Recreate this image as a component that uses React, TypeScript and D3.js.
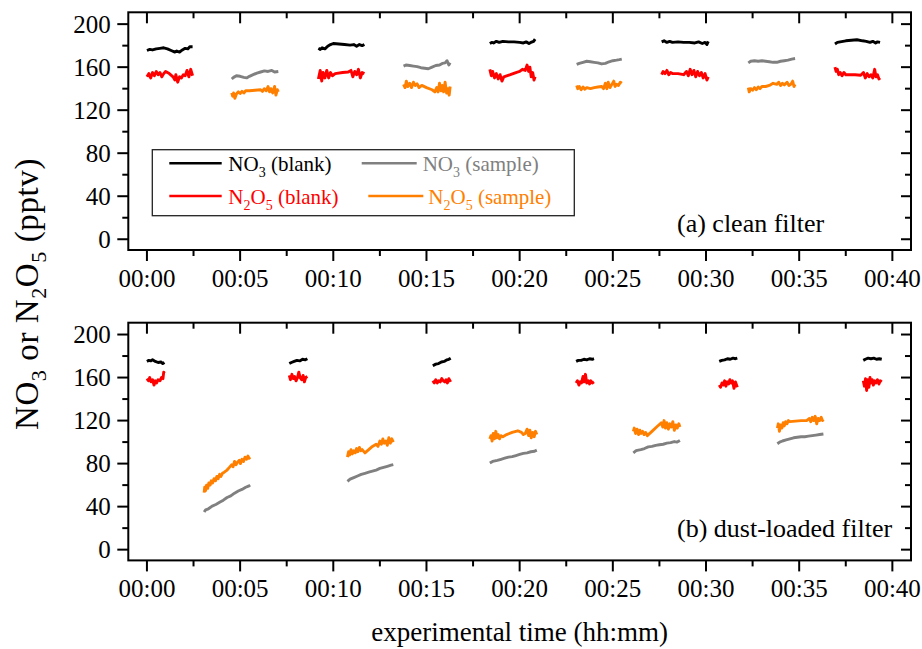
import React from "react";
import * as d3 from "d3";

type Seg = [number, number][];

// time in minutes, value in pptv

// (a) clean filter
const topNo3Blank: Seg[] = [
  [[0, 175.5], [0.15, 176.5], [0.3, 176], [0.5, 177], [0.7, 177.5], [0.9, 178], [1.1, 177], [1.3, 175.5], [1.5, 174], [1.6, 175], [1.75, 174], [1.9, 176], [2.05, 177.5], [2.2, 177], [2.3, 179], [2.45, 179]],
  [[9.2, 177.5], [9.3, 176.5], [9.4, 178], [9.55, 177], [9.7, 179.5], [9.85, 181], [10.0, 182], [10.3, 181.5], [10.6, 181], [10.9, 180.5], [11.1, 181], [11.25, 179.5], [11.4, 181], [11.55, 180], [11.67, 181]],
  [[18.4, 182], [18.5, 183], [18.6, 182.5], [18.75, 184], [18.9, 183], [19.1, 184], [19.4, 183.5], [19.7, 183.5], [20.0, 183], [20.2, 182.5], [20.35, 183.5], [20.5, 182], [20.6, 183], [20.75, 184], [20.83, 186]],
  [[27.62, 183.5], [27.75, 184.5], [27.9, 183], [28.05, 184], [28.2, 183], [28.5, 183.5], [28.8, 183], [29.1, 183], [29.4, 182.5], [29.6, 183.5], [29.8, 182], [29.95, 183], [30.05, 181], [30.12, 184]],
  [[36.92, 181.5], [37.05, 183], [37.2, 183.5], [37.5, 184.5], [37.8, 185], [38.1, 185.5], [38.4, 184.5], [38.6, 184], [38.8, 183], [38.95, 184], [39.1, 182.5], [39.2, 183.5], [39.34, 183]],
];

const topN2o5Blank: Seg[] = [
  [[0, 151], [0.1, 154], [0.2, 150], [0.3, 155], [0.4, 152], [0.5, 156], [0.6, 153], [0.7, 155], [0.8, 151], [0.9, 154], [1.0, 156], [1.2, 154], [1.4, 151], [1.5, 148], [1.55, 153], [1.65, 146], [1.75, 151], [1.85, 150], [1.95, 153], [2.05, 152], [2.15, 157], [2.25, 151], [2.35, 158], [2.45, 152]],
  [[9.2, 149], [9.3, 157], [9.38, 147], [9.45, 155], [9.55, 150], [9.65, 157], [9.75, 150], [9.85, 155], [9.95, 152], [10.1, 154], [10.5, 155], [10.8, 155.5], [10.95, 157], [11.05, 151], [11.15, 156], [11.25, 153], [11.35, 158], [11.45, 150], [11.55, 155], [11.67, 154]],
  [[18.4, 158], [18.48, 152], [18.55, 156], [18.65, 150], [18.75, 154], [18.85, 149], [18.95, 153], [19.05, 147], [19.15, 151], [19.5, 153], [19.8, 155], [20.0, 156], [20.15, 158], [20.3, 157], [20.4, 162], [20.48, 156], [20.55, 160], [20.62, 151], [20.7, 155], [20.77, 148], [20.83, 151]],
  [[27.62, 153], [27.7, 156], [27.8, 154], [27.9, 157], [28.0, 153], [28.1, 155], [28.2, 154], [28.5, 154], [28.8, 153], [28.95, 156], [29.05, 152], [29.15, 158], [29.25, 153], [29.35, 157], [29.45, 151], [29.55, 156], [29.65, 152], [29.75, 155], [29.85, 150], [29.95, 154], [30.05, 148], [30.12, 151]],
  [[36.92, 160], [36.98, 156], [37.05, 158], [37.12, 153], [37.2, 155], [37.3, 152], [37.4, 155], [37.5, 153], [37.7, 153], [38.0, 153], [38.3, 152.5], [38.45, 155], [38.55, 150], [38.65, 154], [38.75, 151], [38.85, 153], [38.95, 150], [39.05, 158], [39.12, 151], [39.2, 153], [39.28, 149], [39.34, 150]],
];

const topNo3Sample: Seg[] = [
  [[4.55, 149], [4.65, 150.5], [4.8, 152], [5.0, 151.5], [5.2, 150.5], [5.35, 150], [5.5, 151.5], [5.7, 153], [5.9, 154.5], [6.1, 155.5], [6.3, 156.5], [6.5, 156], [6.7, 157], [6.85, 155.5], [7.05, 156]],
  [[13.77, 161], [13.9, 162], [14.1, 161.5], [14.3, 161], [14.5, 160.5], [14.7, 159.5], [14.9, 159], [15.1, 158.5], [15.3, 160], [15.5, 161.5], [15.7, 162], [15.85, 163.5], [16.0, 164], [16.1, 166], [16.2, 162], [16.27, 164]],
  [[23.06, 162.5], [23.2, 163.5], [23.4, 164.5], [23.6, 165.5], [23.8, 165], [24.0, 164.5], [24.2, 164], [24.4, 163], [24.6, 163.5], [24.8, 165], [25.0, 166], [25.2, 166.5], [25.35, 167], [25.48, 167.5]],
  [[32.27, 164], [32.4, 165.5], [32.6, 166], [32.8, 165.5], [33.0, 166], [33.2, 165.5], [33.4, 165], [33.6, 164.5], [33.8, 164.5], [34.0, 165.5], [34.2, 166], [34.4, 166.5], [34.6, 167.5], [34.78, 168]],
];

const topN2o5Sample: Seg[] = [
  [[4.55, 136], [4.6, 133], [4.65, 136], [4.72, 131], [4.8, 135], [4.9, 137], [5.0, 135.5], [5.1, 137.5], [5.2, 136], [5.3, 138], [5.5, 138], [5.8, 138.5], [6.1, 139], [6.2, 137.5], [6.3, 140], [6.4, 138], [6.5, 142], [6.58, 137], [6.65, 140], [6.75, 136], [6.85, 142], [6.92, 134], [7.0, 139], [7.05, 137]],
  [[13.77, 144], [13.85, 141], [13.92, 147], [14.0, 142], [14.1, 145], [14.2, 141], [14.3, 146], [14.4, 143], [14.5, 144.5], [14.6, 141], [14.75, 143], [15.0, 141], [15.3, 139], [15.45, 137], [15.55, 141], [15.62, 137], [15.7, 145], [15.78, 138], [15.85, 143], [15.92, 137], [16.0, 146], [16.08, 136], [16.15, 140], [16.22, 134], [16.27, 142]],
  [[23.06, 143], [23.12, 140], [23.2, 142], [23.3, 139], [23.4, 141.5], [23.5, 139.5], [23.6, 141], [23.8, 140], [24.0, 141], [24.2, 141.5], [24.4, 142], [24.5, 140], [24.6, 145], [24.68, 140], [24.75, 146], [24.85, 141], [24.95, 144], [25.05, 147], [25.12, 142], [25.2, 144], [25.3, 143], [25.4, 146], [25.48, 145]],
  [[32.27, 141], [32.32, 137], [32.4, 140], [32.5, 138.5], [32.6, 141], [32.7, 139], [32.8, 141.5], [32.9, 140], [33.0, 142], [33.2, 142], [33.4, 143], [33.6, 145], [33.8, 144], [33.9, 146], [34.0, 143], [34.1, 145], [34.2, 143.5], [34.35, 146], [34.45, 143], [34.55, 144], [34.65, 147], [34.72, 142], [34.78, 144]],
];

// (b) dust-loaded filter
const botNo3Blank: Seg[] = [
  [[0, 175], [0.1, 176], [0.2, 175.5], [0.3, 176.5], [0.45, 175], [0.6, 174], [0.75, 174.5], [0.85, 173], [0.94, 174]],
  [[7.64, 173], [7.75, 174], [7.9, 175], [8.05, 176], [8.2, 175.5], [8.35, 177], [8.5, 176.5], [8.61, 177.5]],
  [[15.34, 171], [15.5, 172.5], [15.65, 173], [15.8, 174.5], [15.95, 175], [16.1, 176.5], [16.2, 177], [16.3, 178]],
  [[23.03, 175], [23.15, 176], [23.3, 176], [23.45, 177], [23.6, 176.5], [23.75, 177.5], [23.9, 177], [23.99, 177.5]],
  [[30.71, 175], [30.85, 176], [31.0, 176.5], [31.15, 177.5], [31.3, 177], [31.45, 178], [31.58, 177.5], [31.68, 178]],
  [[38.44, 176], [38.55, 177], [38.7, 178], [38.85, 177.5], [39.0, 178], [39.15, 177], [39.3, 177.5], [39.43, 177]],
];

const botN2o5Blank: Seg[] = [
  [[0, 159], [0.08, 157], [0.15, 160], [0.22, 156], [0.3, 158], [0.38, 153], [0.45, 157], [0.52, 155], [0.6, 158], [0.7, 157], [0.78, 160], [0.86, 159], [0.9, 165], [0.94, 164]],
  [[7.64, 162], [7.7, 158], [7.78, 163], [7.85, 159], [7.92, 161], [8.0, 157], [8.08, 160], [8.15, 165], [8.22, 160], [8.3, 158], [8.38, 162], [8.45, 156], [8.52, 160], [8.61, 161]],
  [[15.34, 157], [15.42, 155], [15.5, 158], [15.58, 155], [15.66, 157], [15.74, 156], [15.82, 159], [15.9, 157], [15.98, 156], [16.05, 158], [16.12, 155], [16.2, 159], [16.3, 156]],
  [[23.03, 155], [23.1, 157], [23.18, 153], [23.25, 156], [23.32, 155], [23.4, 161], [23.46, 156], [23.53, 163], [23.6, 155], [23.68, 157], [23.75, 154], [23.82, 157], [23.9, 155], [23.99, 156]],
  [[30.71, 153], [30.78, 151], [30.86, 155], [30.93, 153], [31.0, 157], [31.07, 152], [31.14, 156], [31.21, 154], [31.28, 158], [31.35, 155], [31.42, 157], [31.5, 150], [31.58, 156], [31.68, 151]],
  [[38.44, 157], [38.5, 152], [38.56, 159], [38.62, 148], [38.68, 158], [38.74, 151], [38.8, 160], [38.86, 155], [38.92, 158], [38.98, 153], [39.05, 157], [39.12, 155], [39.2, 158], [39.28, 154], [39.35, 157], [39.43, 156]],
];

const botNo3Sample: Seg[] = [
  [[3.07, 35], [3.15, 37], [3.3, 38], [3.5, 40.5], [3.7, 42], [3.9, 44], [4.1, 46], [4.3, 48.5], [4.5, 50], [4.7, 52.5], [4.9, 54.5], [5.1, 56], [5.3, 58], [5.45, 59], [5.54, 60]],
  [[10.76, 63.5], [10.9, 65.5], [11.1, 67], [11.3, 68.5], [11.5, 70], [11.7, 71], [11.9, 72], [12.1, 73], [12.3, 74], [12.5, 75.5], [12.7, 76.5], [12.9, 77.5], [13.1, 78.5], [13.22, 79]],
  [[18.4, 80.5], [18.55, 82], [18.8, 83], [19.0, 84], [19.2, 85], [19.4, 86], [19.6, 86.5], [19.8, 87.5], [20.0, 88.5], [20.2, 89.5], [20.4, 90], [20.6, 91], [20.8, 91.5], [20.92, 92.5]],
  [[26.1, 90], [26.25, 92], [26.5, 93], [26.7, 94], [26.9, 95.5], [27.1, 96], [27.3, 97], [27.5, 97.5], [27.7, 98], [27.9, 99], [28.1, 99.5], [28.3, 100.5], [28.45, 100], [28.6, 101.5]],
  [[33.83, 98.5], [33.95, 100], [34.1, 101], [34.3, 102], [34.5, 103], [34.7, 104], [34.9, 104.5], [35.1, 105], [35.3, 105], [35.5, 105.5], [35.7, 106], [35.9, 106.5], [36.1, 107], [36.3, 107.5]],
];

const botN2o5Sample: Seg[] = [
  [[3.07, 53], [3.1, 58], [3.15, 55], [3.2, 60], [3.26, 57], [3.32, 62], [3.39, 60], [3.45, 64], [3.52, 62], [3.6, 66], [3.68, 64], [3.75, 68], [3.82, 66], [3.9, 70], [3.97, 68], [4.05, 71], [4.15, 72], [4.3, 74], [4.45, 77], [4.55, 79], [4.62, 77], [4.7, 82], [4.78, 79], [4.85, 81], [4.95, 83], [5.02, 80], [5.1, 84], [5.18, 82], [5.26, 86], [5.34, 84], [5.42, 87], [5.48, 85], [5.54, 86]],
  [[10.76, 86], [10.82, 91], [10.88, 88], [10.95, 93], [11.02, 89], [11.1, 92], [11.18, 90], [11.25, 94], [11.32, 91], [11.4, 95], [11.48, 92], [11.55, 93], [11.7, 90], [11.9, 93], [12.1, 96], [12.3, 98], [12.4, 96], [12.5, 101], [12.58, 98], [12.66, 103], [12.74, 99], [12.82, 101], [12.9, 97], [12.98, 104], [13.06, 99], [13.14, 103], [13.22, 100]],
  [[18.4, 103], [18.46, 106], [18.52, 101], [18.58, 108], [18.65, 103], [18.72, 110], [18.78, 104], [18.85, 107], [18.92, 103], [19.0, 106], [19.1, 105], [19.3, 107], [19.6, 109], [19.9, 110.5], [20.1, 109], [20.2, 107], [20.3, 108], [20.4, 112], [20.48, 106], [20.55, 111], [20.62, 104], [20.7, 109], [20.78, 105], [20.85, 110], [20.92, 107]],
  [[26.1, 110], [26.15, 113], [26.22, 108], [26.3, 112], [26.38, 107], [26.45, 111], [26.52, 108], [26.6, 110], [26.68, 107], [26.76, 109], [26.85, 106], [27.1, 110], [27.35, 114], [27.6, 118], [27.68, 114], [27.75, 120], [27.82, 113], [27.9, 118], [27.98, 112], [28.06, 117], [28.14, 114], [28.22, 119], [28.3, 111], [28.38, 116], [28.46, 113], [28.54, 117], [28.6, 114]],
  [[33.83, 113], [33.88, 117], [33.94, 110], [34.0, 116], [34.07, 113], [34.14, 118], [34.2, 115], [34.27, 119], [34.35, 117], [34.42, 120], [34.5, 119], [34.8, 119.5], [35.1, 120], [35.4, 120], [35.55, 122], [35.62, 119], [35.7, 123], [35.78, 120], [35.86, 124], [35.94, 117], [36.02, 122], [36.1, 120], [36.18, 123], [36.25, 120], [36.3, 121]],
];

const xTicks = [0, 5, 10, 15, 20, 25, 30, 35, 40];
const xMinor = [2.5, 7.5, 12.5, 17.5, 22.5, 27.5, 32.5, 37.5];
const yTicks = [0, 40, 80, 120, 160, 200];
const yMinor = [20, 60, 100, 140, 180];

const FONT = "Liberation Serif, Times New Roman, DejaVu Serif, serif";
const C_BLACK = "#000000";
const C_GRAY = "#808080";
const C_RED = "#ff0000";
const C_ORANGE = "#ff8000";

const W = 922;
const H = 649;
const left = 128.3;
const right = 911;
const panelH = 237.7;

const fmt = (m: number) => `00:${String(m).padStart(2, "0")}`;

const x = d3.scaleLinear().domain([-1, 41]).range([left, right]);

function Panel({ top, series, label, labelY }: any) {
  const y = d3.scaleLinear().domain([-10, 211]).range([top + panelH, top]);
  const line = d3
    .line<[number, number]>()
    .x((d) => x(d[0]))
    .y((d) => y(d[1]));
  const bottom = top + panelH;
  return (
    <g>
      {series.map((s: any, i: number) =>
        s.segs.map((seg: Seg, j: number) => (
          <path
            key={`${i}-${j}`}
            d={line(seg) || ""}
            fill="none"
            stroke={s.color}
            strokeWidth={2.9}
            strokeLinejoin="round"
          />
        ))
      )}
      <rect x={left} y={top} width={right - left} height={panelH} fill="none" stroke="#000" strokeWidth={2} />
      {/* x ticks: bottom outward, top inward */}
      {xTicks.map((t) => (
        <g key={`xt${t}`}>
          <line x1={x(t)} x2={x(t)} y1={bottom} y2={bottom + 11} stroke="#000" strokeWidth={2} />
          <line x1={x(t)} x2={x(t)} y1={top} y2={top + 11} stroke="#000" strokeWidth={2} />
          <text x={x(t)} y={bottom + 37} textAnchor="middle" fontSize={25} style={{ fontFamily: FONT }}>
            {fmt(t)}
          </text>
        </g>
      ))}
      {xMinor.map((t) => (
        <g key={`xm${t}`}>
          <line x1={x(t)} x2={x(t)} y1={bottom} y2={bottom + 6} stroke="#000" strokeWidth={2} />
          <line x1={x(t)} x2={x(t)} y1={top} y2={top + 6} stroke="#000" strokeWidth={2} />
        </g>
      ))}
      {/* y ticks: left outward, right inward */}
      {yTicks.map((v) => (
        <g key={`yt${v}`}>
          <line x1={left - 11} x2={left} y1={y(v)} y2={y(v)} stroke="#000" strokeWidth={2} />
          <line x1={right - 10} x2={right} y1={y(v)} y2={y(v)} stroke="#000" strokeWidth={2} />
          <text x={left - 17.5} y={y(v)} dy="0.35em" textAnchor="end" fontSize={25} style={{ fontFamily: FONT }}>
            {v}
          </text>
        </g>
      ))}
      {yMinor.map((v) => (
        <g key={`ym${v}`}>
          <line x1={left - 6} x2={left} y1={y(v)} y2={y(v)} stroke="#000" strokeWidth={2} />
          <line x1={right - 6} x2={right} y1={y(v)} y2={y(v)} stroke="#000" strokeWidth={2} />
        </g>
      ))}
      <text x={677} y={labelY} fontSize={26} style={{ fontFamily: FONT }}>
        {label}
      </text>
    </g>
  );
}

function Sub({ base, sub, after }: { base: string[]; sub: string[]; after: string }) {
  // alternating normal text and subscript digits
  const parts: any[] = [];
  base.forEach((b, i) => {
    parts.push(<tspan key={`b${i}`} dy={i === 0 ? 0 : -6}>{b}</tspan>);
    parts.push(
      <tspan key={`s${i}`} fontSize={14} dy={6}>
        {sub[i]}
      </tspan>
    );
  });
  parts.push(<tspan key="a" dy={-6}>{after}</tspan>);
  return <>{parts}</>;
}

export default function App() {
  const topSeries = [
    { segs: topNo3Blank, color: C_BLACK },
    { segs: topN2o5Blank, color: C_RED },
    { segs: topNo3Sample, color: C_GRAY },
    { segs: topN2o5Sample, color: C_ORANGE },
  ];
  const botSeries = [
    { segs: botNo3Blank, color: C_BLACK },
    { segs: botN2o5Blank, color: C_RED },
    { segs: botNo3Sample, color: C_GRAY },
    { segs: botN2o5Sample, color: C_ORANGE },
  ];
  const legend = [
    { x1: 169.3, x2: 221.7, tx: 228.3, y: 163.3, color: C_BLACK, base: ["NO"], sub: ["3"], after: " (blank)" },
    { x1: 361.7, x2: 416.7, tx: 422.7, y: 163.3, color: C_GRAY, base: ["NO"], sub: ["3"], after: " (sample)" },
    { x1: 169.3, x2: 221.7, tx: 228.3, y: 196, color: C_RED, base: ["N", "O"], sub: ["2", "5"], after: " (blank)" },
    { x1: 368.3, x2: 423.3, tx: 428.3, y: 196, color: C_ORANGE, base: ["N", "O"], sub: ["2", "5"], after: " (sample)" },
  ];
  return (
    <svg width={W} height={H} style={{ position: "absolute", left: 0, top: 0, background: "#fff" }}>
      <rect width={W} height={H} fill="#fff" />
      <Panel top={12.3} series={topSeries} label="(a) clean filter" labelY={231.5} />
      <Panel top={322.7} series={botSeries} label="(b) dust-loaded filter" labelY={537} />

      {/* legend */}
      <rect x={152.3} y={149.7} width={422} height={66} fill="#fff" stroke="#222" strokeWidth={1.3} />
      {legend.map((l, i) => (
        <g key={i}>
          <line x1={l.x1} x2={l.x2} y1={l.y} y2={l.y} stroke={l.color} strokeWidth={2.6} />
          <text x={l.tx} y={l.y + 8} fontSize={21} fill={l.color} style={{ whiteSpace: "pre", fontFamily: FONT }}>
            <Sub base={l.base} sub={l.sub} after={l.after} />
          </text>
        </g>
      ))}

      {/* y title */}
      <text
        transform="translate(38,294) rotate(-90)"
        textAnchor="middle"
        fontSize={33}
        letterSpacing={0.6}
        style={{ whiteSpace: "pre", fontFamily: FONT }}
      >
        <tspan>NO</tspan>
        <tspan fontSize={22} dy={8}>3</tspan>
        <tspan dy={-8}> or N</tspan>
        <tspan fontSize={22} dy={8}>2</tspan>
        <tspan dy={-8}>O</tspan>
        <tspan fontSize={22} dy={8}>5</tspan>
        <tspan dy={-8}> (pptv)</tspan>
      </text>

      {/* x title */}
      <text x={(left + right) / 2} y={641} textAnchor="middle" fontSize={27} style={{ fontFamily: FONT }}>
        experimental time (hh:mm)
      </text>
    </svg>
  );
}
